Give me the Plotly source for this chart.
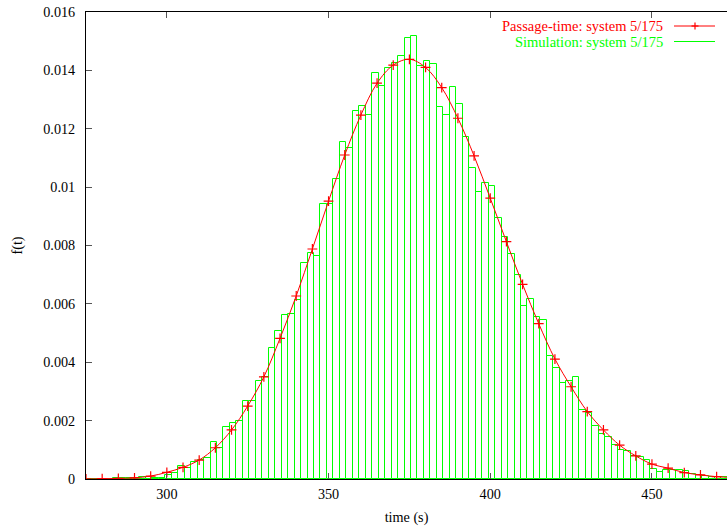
import plotly.graph_objects as go

# Simulation histogram: bin centres (width 2 s) and densities
sim_time = [276.5, 278.5, 280.5, 282.5, 284.5, 286.5, 288.5, 290.5, 292.5, 294.5,
            296.5, 298.5, 300.5, 302.5, 304.5, 306.5, 308.5, 310.5, 312.5, 314.5,
            316.5, 318.5, 320.5, 322.5, 324.5, 326.5, 328.5, 330.5, 332.5, 334.5,
            336.5, 338.5, 340.5, 342.5, 344.5, 346.5, 348.5, 350.5, 352.5, 354.5,
            356.5, 358.5, 360.5, 362.5, 364.5, 366.5, 368.5, 370.5, 372.5, 374.5,
            376.5, 378.5, 380.5, 382.5, 384.5, 386.5, 388.5, 390.5, 392.5, 394.5,
            396.5, 398.5, 400.5, 402.5, 404.5, 406.5, 408.5, 410.5, 412.5, 414.5,
            416.5, 418.5, 420.5, 422.5, 424.5, 426.5, 428.5, 430.5, 432.5, 434.5,
            436.5, 438.5, 440.5, 442.5, 444.5, 446.5, 448.5, 450.5, 452.5, 454.5,
            456.5, 458.5, 460.5, 462.5, 464.5, 466.5, 468.5, 470.5, 472.5]
sim_density = [0.0, 0.0, 0.00001, 0.00001, 0.00002, 0.00002, 0.00003, 0.00004, 0.00008, 0.00008,
               0.00005, 0.00005, 0.00014, 0.00019, 0.00046, 0.00037, 0.00059, 0.00065, 0.00071, 0.00128,
               0.00107, 0.00179, 0.00191, 0.00200, 0.00266, 0.00268, 0.00337, 0.00350, 0.00448, 0.00507,
               0.00562, 0.00565, 0.00613, 0.00741, 0.00775, 0.00765, 0.00941, 0.00941, 0.01027, 0.01156,
               0.01135, 0.01262, 0.01278, 0.01247, 0.01390, 0.01347, 0.01407, 0.01424, 0.01450, 0.01510,
               0.01518, 0.01415, 0.01433, 0.01422, 0.01273, 0.01247, 0.01342, 0.01285, 0.01173, 0.01064,
               0.00984, 0.01015, 0.01004, 0.00893, 0.00828, 0.00770, 0.00699, 0.00593, 0.00616, 0.00554,
               0.00545, 0.00421, 0.00379, 0.00330, 0.00335, 0.00348, 0.00238, 0.00226, 0.00183, 0.00155,
               0.00144, 0.00118, 0.00100, 0.00095, 0.00080, 0.00075, 0.00066, 0.00034, 0.00023, 0.00030,
               0.00030, 0.00032, 0.00026, 0.00018, 0.00015, 0.00009, 0.00007, 0.00007, 0.00006]

# Passage-time analytic density
pt_time = [275, 280, 285, 290, 295, 300, 305, 310, 315, 320, 325, 330, 335, 340, 345,
           350, 355, 360, 365, 370, 375, 380, 385, 390, 395, 400, 405, 410, 415, 420,
           425, 430, 435, 440, 445, 450, 455, 460, 465, 470, 475]
pt_density = [0.0, 0.00001, 0.00002, 0.00004, 0.0001, 0.00023, 0.0004, 0.00065, 0.00107, 0.00168,
              0.0025, 0.0035, 0.00482, 0.00627, 0.00788, 0.00952, 0.0111, 0.01247, 0.01356, 0.01418,
              0.01438, 0.0141, 0.01341, 0.01236, 0.01107, 0.00962, 0.00813, 0.00667, 0.00532, 0.00411,
              0.00316, 0.00231, 0.00168, 0.00116, 0.00079, 0.00051, 0.00037, 0.00022, 0.00014, 0.00008,
              0.00005]

x_ticks = [300, 350, 400, 450]
y_ticks = [0, 0.002, 0.004, 0.006, 0.008, 0.01, 0.012, 0.014, 0.016]
y_ticklabels = ["0", "0.002", "0.004", "0.006", "0.008", "0.01", "0.012", "0.014", "0.016"]

RED = "#ff0000"
GREEN = "#00ff00"
FONT = "Liberation Serif"
FS = 14.5
TFS = 14.2

fig = go.Figure()
fig.add_trace(go.Bar(
    x=sim_time, y=sim_density, width=2,
    marker=dict(color="white", line=dict(color=GREEN, width=1)),
    showlegend=False,
))
fig.add_trace(go.Scatter(
    x=pt_time, y=pt_density, mode="lines+markers",
    line=dict(color=RED, width=1, shape="spline"),
    marker=dict(symbol="cross-thin", size=7, line=dict(color=RED, width=1.2), color=RED),
    showlegend=False, cliponaxis=True,
))

W, H = 727, 531
L, T = 86, 12
BOTTOM = 479
B = H - BOTTOM
pw, ph = W - L, BOTTOM - T

def px(xp):
    return (xp - L) / pw

def py(yp):
    return (BOTTOM - yp) / ph

shapes = []
# legend samples
shapes.append(dict(type="line", xref="paper", yref="paper", x0=px(674), x1=px(715), y0=py(26), y1=py(26),
                   line=dict(color=RED, width=1)))
shapes.append(dict(type="line", xref="paper", yref="paper", x0=px(691.5), x1=px(698.5), y0=py(26), y1=py(26),
                   line=dict(color=RED, width=1.2)))
shapes.append(dict(type="line", xref="paper", yref="paper", x0=px(695), x1=px(695), y0=py(22.5), y1=py(29.5),
                   line=dict(color=RED, width=1.2)))
shapes.append(dict(type="line", xref="paper", yref="paper", x0=px(674), x1=px(715), y0=py(41.5), y1=py(41.5),
                   line=dict(color=GREEN, width=1)))

annotations = [
    dict(text="Passage-time: system 5/175", xref="paper", yref="paper", x=px(665), y=py(26),
         xanchor="right", yanchor="middle", showarrow=False, font=dict(family=FONT, size=FS, color=RED)),
    dict(text="Simulation: system 5/175", xref="paper", yref="paper", x=px(665), y=py(41.5),
         xanchor="right", yanchor="middle", showarrow=False, font=dict(family=FONT, size=FS, color=GREEN)),
]

fig.update_layout(
    width=W, height=H,
    margin=dict(l=L, r=0, t=T, b=B, pad=0, autoexpand=False),
    paper_bgcolor="white", plot_bgcolor="white",
    bargap=0,
    font=dict(family=FONT, size=FS, color="black"),
    shapes=shapes, annotations=annotations,
    xaxis=dict(range=[275, 275 + pw / 3.234], tickvals=x_ticks, ticks="inside", ticklen=6,
               tickcolor="#555555", showline=True, linecolor="black", linewidth=1, mirror="ticks",
               showgrid=False, zeroline=False, automargin=False,
               title=dict(text="time (s)", standoff=11, font=dict(family=FONT, size=TFS)),
               ticklabelstandoff=2, ticklabeloverflow="allow", tickfont=dict(family=FONT, size=TFS)),
    yaxis=dict(range=[0, 0.016], tickvals=y_ticks, ticktext=y_ticklabels, ticks="inside", ticklen=6,
               tickcolor="#555555", showline=True, linecolor="black", linewidth=1, mirror=False,
               showgrid=False, zeroline=False, automargin=False,
               title=dict(text="f(t)", standoff=17, font=dict(family=FONT, size=TFS)),
               ticklabelstandoff=7, ticklabeloverflow="allow", tickfont=dict(family=FONT, size=TFS)),
)

fig.write_html(
    "out.html",
    config={"displayModeBar": False},
    post_script="document.body.style.margin='0';document.body.style.overflow='hidden';",
)
